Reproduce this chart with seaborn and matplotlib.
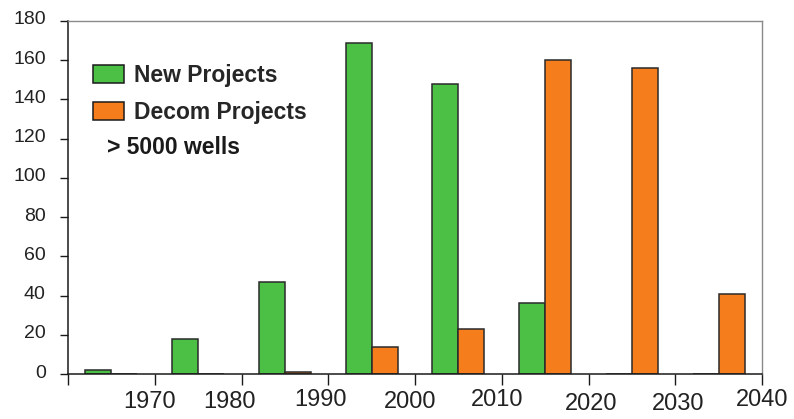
import matplotlib
matplotlib.use("Agg")
import matplotlib.pyplot as plt
import matplotlib.transforms as mtransforms
from matplotlib.patches import Patch
import seaborn as sns
import pandas as pd

# Project counts per decade (bars centred mid-decade)
decades = [1965, 1975, 1985, 1995, 2005, 2015, 2025, 2035]
new_projects = [2, 18, 47, 169, 148, 36, 0, 0]
decom_projects = [0, 0, 1, 14, 23, 160, 156, 41]
series_names = ["New Projects", "Decom Projects"]
x_ticks = [1960, 1970, 1980, 1990, 2000, 2010, 2020, 2030, 2040]
x_tick_labels = ["", "1970", "1980", "1990", "2000", "2010", "2020", "2030", "2040"]
y_ticks = [0, 20, 40, 60, 80, 100, 120, 140, 160, 180]
note = "> 5000 wells"

green = "#4cbf45"
orange = "#f67d1c"

df = pd.DataFrame({
    "decade": decades * 2,
    "count": new_projects + decom_projects,
    "series": [series_names[0]] * len(decades) + [series_names[1]] * len(decades),
})

sns.set_style("white")
plt.rcParams["font.family"] = ["Liberation Sans", "DejaVu Sans"]

fig = plt.figure(figsize=(7.94, 4.19), dpi=100)
ax = fig.add_axes([68 / 794, 1 - 374 / 419, 694 / 794, 353 / 419])

sns.barplot(
    data=df, x="decade", y="count", hue="series", hue_order=series_names,
    palette=[green, orange], native_scale=True, width=0.6, saturation=1,
    edgecolor="#2a2a2a", linewidth=1.1, legend=False, ax=ax,
)

ax.set_xlim(1960, 2040)
ax.set_ylim(0, 180)
ax.set_xlabel("")
ax.set_ylabel("")
ax.set_xticks(x_ticks)
ax.set_xticklabels(x_tick_labels)
ax.set_yticks(y_ticks)

for side in ["left", "bottom"]:
    ax.spines[side].set_color("#1a1a1a")
    ax.spines[side].set_linewidth(1.1)
for side in ["top", "right"]:
    ax.spines[side].set_color("#8a8a8a")
    ax.spines[side].set_linewidth(1.0)

ax.tick_params(axis="y", direction="out", length=6, width=1.0, color="#1a1a1a",
               pad=10, labelsize=14, labelcolor="#222222", left=True)
ax.tick_params(axis="x", direction="out", length=8, width=1.0, color="#1a1a1a",
               pad=4, labelsize=17, labelcolor="#222222", bottom=True)

# slight uneven placement of the year labels
offsets = [(0, 0), (-5, 0), (-12, 0), (-8, 2), (-5, 0), (-5, 2), (3, -2), (3, -2), (0, 2)]
for lab, (dx, dy) in zip(ax.get_xticklabels(), offsets):
    lab.set_transform(lab.get_transform() +
                      mtransforms.ScaledTranslation(dx / 100, dy / 100, fig.dpi_scale_trans))
for lab in ax.get_yticklabels():
    lab.set_transform(lab.get_transform() +
                      mtransforms.ScaledTranslation(0, 3 / 100, fig.dpi_scale_trans))

handles = [
    Patch(facecolor=green, edgecolor="#1a1a1a", linewidth=1.1, label=series_names[0]),
    Patch(facecolor=orange, edgecolor="#1a1a1a", linewidth=1.1, label=series_names[1]),
]
ax.legend(handles=handles, loc="upper left", bbox_to_anchor=(25 / 694, 1 - 43 / 353),
          frameon=False, borderaxespad=0, borderpad=0,
          prop={"family": "Liberation Sans", "weight": "bold", "size": 16.5},
          handlelength=1.35, handleheight=0.85, handletextpad=0.45, labelspacing=0.62)

ax.text(39 / 694, (374 - 147) / 353, note, transform=ax.transAxes,
        fontsize=16.5, fontweight="bold", color="#1a1a1a", va="center", ha="left")

fig.savefig("out.png", dpi=100, facecolor="white")
